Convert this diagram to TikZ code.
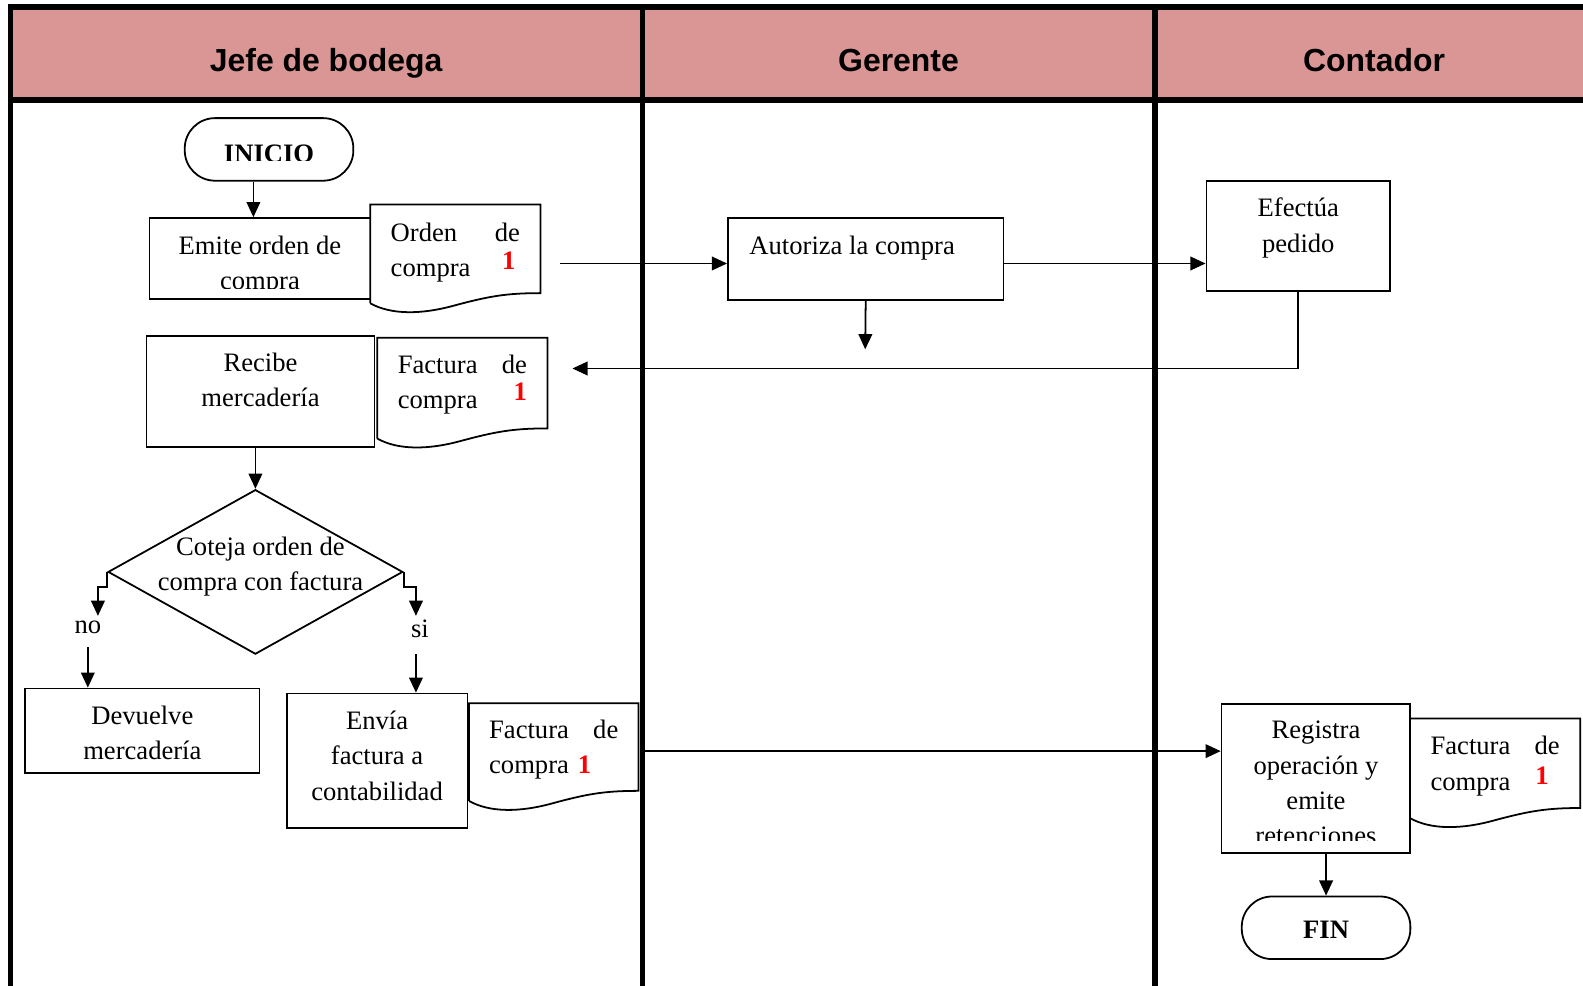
\documentclass[tikz,border=0pt]{standalone}
\usepackage{fontspec}
\setmainfont{Liberation Serif}
\setsansfont{Liberation Sans}
\usetikzlibrary{arrows.meta,positioning,calc,fit,shapes.geometric}
\definecolor{lanepink}{RGB}{217,150,148}
\definecolor{numred}{RGB}{255,0,0}
\newcommand{\docnum}{\textcolor{numred}{\bfseries 1}}
% outline of a document symbol: straight top and sides, wavy bottom
\newcommand{\docedge}[1]{%
  \draw[line width=1pt] let \p1=(#1.south west), \p2=(#1.north east), \n1={\x2-\x1} in
    (\x1,\y1+0.2cm) -- (\x1,\y2) -- (\x2,\y2) -- (\x2,\y1+0.4cm)
    .. controls (\x1+0.8*\n1,\y1+0.4cm) and (\x1+0.7*\n1,\y1+0.34cm) .. (\x1+0.5*\n1,\y1+0.16cm)
    .. controls (\x1+0.3*\n1,\y1-0.03cm) and (\x1+0.12*\n1,\y1-0.03cm) .. (\x1,\y1+0.2cm);}
\tikzset{
  box/.style={draw, line width=1pt, inner sep=0pt},
  term/.style={box, rounded corners=0.6cm},
  docbox/.style={inner sep=0pt},
  txt/.style={font=\fontsize{15}{19.9}\selectfont, align=center, inner sep=0pt},
  doctxt/.style={txt, text width=2.56cm, align=left, anchor=north},
  lanehead/.style={font=\sffamily\bfseries\fontsize{18}{22}\selectfont, anchor=base},
  lane/.style={line width=2.9pt, line cap=rect},
  arr/.style={line width=1pt, -{Triangle[length=0.3cm,width=0.27cm]}}
}

\begin{document}
\begin{tikzpicture}[x=0.02cm, y=-0.02cm]
  \useasboundingbox (0,0) rectangle (1568,976);

  % lane headers
  \fill[lanepink] (10,7) rectangle (1568,99);
  \node[lanehead] (hjefe) at (323,71) {Jefe de bodega};
  \node[lanehead] (hgerente) at (890,71) {Gerente};
  \node[lanehead] (hcontador) at (1361,71) {Contador};
  \draw[lane] (10,7) -- (1568,7);
  \draw[lane] (10,99) -- (1568,99);
  \draw[lane] (10,7) -- (10,980);
  \draw[lane] (636,7) -- (636,980);
  \draw[lane] (1144,7) -- (1144,980);

  % Jefe de bodega
  \node[term, fit={(183,117) (350,179)}] (inicio) {};
  \begin{scope}
    \clip (inicio.north west) rectangle (350,159);
    \node[txt, font=\fontsize{15}{19.9}\selectfont\bfseries, anchor=base] (iniciotxt) at (266.5,161) {INICIO};
  \end{scope}

  \node[box, fit={(148,216) (367,296)}] (emite) {};
  \begin{scope}
    \clip (emite.north west) rectangle (367,286);
    \node[txt, anchor=north] (emitetxt) at (257.5,233.5) {Emite orden de\\compra};
  \end{scope}
  \node[docbox, fit={(367,203) (535,310)}] (ordendoc) {};
  \docedge{ordendoc}
  \node[doctxt] (ordentxt) at (451,220.5) {Orden\hfill de\\compra\hfill\raisebox{4pt}{\docnum}\rule{0.09cm}{0pt}};

  \node[box, fit={(145,333) (371,443)}] (recibe) {};
  \node[txt, anchor=north] (recibetxt) at (258,349.5) {Recibe\\mercadería};
  \node[docbox, fit={(374,335) (542,444)}] (factdoca) {};
  \docedge{factdoca}
  \node[doctxt] (factatxt) at (458,351.5) {Factura\hfill de\\compra\hfill\raisebox{4.5pt}{\docnum}};

  \node[box, diamond, minimum width=5.84cm, minimum height=3.26cm] (coteja) at (253,566.5) {};
  \node[txt, anchor=north] (cotejatxt) at (258,531.5) {Coteja orden de\\compra con factura};
  \node[txt] (nolbl) at (87,621.5) {no};
  \node[txt] (silbl) at (416,623) {si};

  \node[box, fit={(25,682) (257,766)}] (devuelve) {};
  \node[txt, anchor=north] (devuelvetxt) at (141,698.5) {Devuelve\\mercadería};

  \node[box, fit={(284,687) (463,820)}] (envia) {};
  \node[txt, anchor=north] (enviatxt) at (373.5,704) {Envía\\factura a\\contabilidad};
  \node[docbox, fit={(465,697) (632,803)}] (factdocb) {};
  \docedge{factdocb}
  \node[doctxt] (factbtxt) at (548.5,712.5) {Factura\hfill de\\compra \docnum};

  % Gerente
  \node[box, fit={(721,216) (994,297)}] (autoriza) {};
  \node[txt, anchor=north west] (autorizatxt) at (742,233) {Autoriza la compra};

  % Contador
  \node[box, fit={(1195,179) (1377,288)}] (efectua) {};
  \node[txt, anchor=north] (efectuatxt) at (1286,196) {Efectúa\\pedido};

  \node[box, fit={(1210,697) (1397,845)}] (registra) {};
  \begin{scope}
    \clip (registra.north west) rectangle (1397,833);
    \node[txt, anchor=north] (registratxt) at (1303.5,714) {Registra\\operación y\\emite\\retenciones};
  \end{scope}
  \node[docbox, fit={(1397,712) (1565,820)}] (factdocc) {};
  \docedge{factdocc}
  \node[doctxt] (facttxtc) at (1481,729) {Factura\hfill de\\compra\hfill\raisebox{3pt}{\docnum}\rule{0.22cm}{0pt}};

  \node[term, fit={(1230,888) (1397,950)}] (fin) {};
  \node[txt, font=\fontsize{15}{19.9}\selectfont\bfseries, anchor=base] (fintxt) at (1313.5,930) {FIN};

  % connectors
  \coordinate (xa) at (251,0);
  \coordinate (ordenout) at (555,261);
  \coordinate (autstop) at (857,346);
  \coordinate (retorno) at (567,365);
  \coordinate (noin) at (97,610);
  \coordinate (noout) at (87,641);
  \coordinate (siin) at (412,610);
  \coordinate (siout) at (412,648);
  \coordinate (enviaout) at (638,744);

  \draw[arr] (inicio.south -| xa) -- (emite.north -| xa);
  \draw[arr] (ordenout) -- (ordenout -| autoriza.west);
  \draw[arr] (ordenout -| autoriza.east) -- (ordenout -| efectua.west);
  \draw[arr] (autoriza.south) -- (autstop);
  \draw[arr] (efectua.south) |- (retorno);
  \draw[arr] (recibe.south -| coteja.north) -- (coteja.north);
  \draw[arr] (coteja.west) -- ++(0,15) -| (noin);
  \draw[arr] (noout) -- (noout |- devuelve.north);
  \draw[arr] (coteja.east) -- ++(0,15) -| (siin);
  \draw[arr] (siout) -- (siout |- envia.north);
  \draw[arr] (enviaout) -- (enviaout -| registra.west);
  \draw[arr] (registra.south -| fin.north) -- (fin.north);
\end{tikzpicture}
\end{document}
